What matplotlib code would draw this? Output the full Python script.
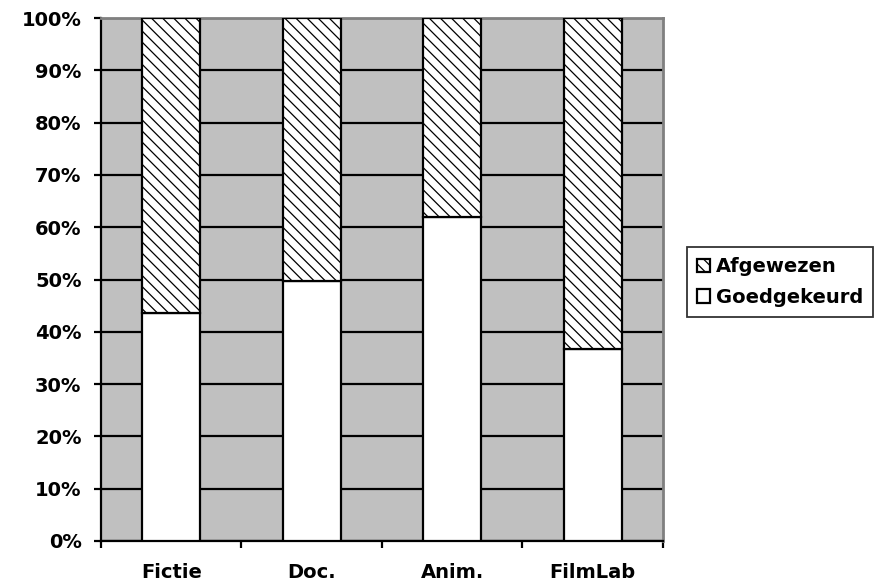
import numpy as np
import matplotlib.pyplot as plt
from matplotlib.ticker import FixedLocator, PercentFormatter

categories = ['Fictie', 'Doc.', 'Anim.', 'FilmLab']
goedgekeurd = [43.6, 49.8, 62.0, 36.8]
afgewezen = [100 - v for v in goedgekeurd]

plt.rcParams['font.family'] = 'DejaVu Sans'
plt.rcParams['font.weight'] = 'bold'
plt.rcParams['hatch.linewidth'] = 0.9

fig = plt.figure(figsize=(8.78, 5.87), dpi=100)
ax = fig.add_axes([101 / 878, 46 / 587, 562 / 878, 523 / 587])
ax.set_facecolor('#c0c0c0')

x = np.arange(len(categories))
w = 0.41
b1 = ax.bar(x, goedgekeurd, w, color='white', edgecolor='black', lw=1.6,
            label='Goedgekeurd', zorder=3)
b2 = ax.bar(x, afgewezen, w, bottom=goedgekeurd, color='white',
            edgecolor='black', hatch='\\\\\\', lw=1.6, label='Afgewezen', zorder=3)

ax.set_xlim(-0.5, len(categories) - 0.5)
ax.set_ylim(0, 100)
ax.yaxis.set_major_locator(FixedLocator(np.arange(0, 101, 10)))
ax.yaxis.set_major_formatter(PercentFormatter(decimals=0))
ax.grid(axis='y', color='black', lw=1.6, zorder=1)
ax.set_axisbelow(True)

ax.set_xticks(x)
ax.set_xticklabels(categories)
ax.set_xticks(np.arange(-0.5, len(categories)), minor=True)
ax.tick_params(axis='x', which='major', length=0, pad=16, labelsize=14)
ax.tick_params(axis='x', which='minor', length=5, width=1.6, direction='out')
ax.tick_params(axis='y', length=5, width=1.6, pad=9, labelsize=14)

for s in ['left', 'bottom']:
    ax.spines[s].set_color('black')
    ax.spines[s].set_linewidth(1.6)
for s in ['top', 'right']:
    ax.spines[s].set_color('#808080')
    ax.spines[s].set_linewidth(2)

leg = ax.legend(handles=[b2, b1], loc='center left',
                bbox_to_anchor=(687 / 878, (587 - 282) / 587), bbox_transform=fig.transFigure,
                frameon=True, fancybox=False, edgecolor='black', fontsize=14,
                handlelength=0.7, handleheight=0.7, handletextpad=0.3,
                borderpad=0.5, labelspacing=0.6, borderaxespad=0)
leg.get_frame().set_linewidth(1.3)

fig.savefig('out.png', dpi=100)
